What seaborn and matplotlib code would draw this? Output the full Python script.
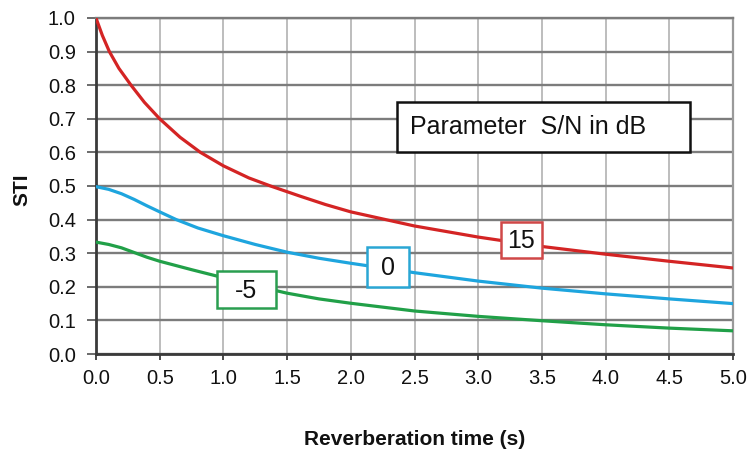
import numpy as np
import pandas as pd
import matplotlib
matplotlib.use("Agg")
import matplotlib.pyplot as plt
from matplotlib.patches import Rectangle
import seaborn as sns

# STI versus reverberation time (s), one curve per signal-to-noise ratio (dB)
rt_sn15 = [0.0, 0.05, 0.105, 0.18, 0.275, 0.38, 0.5, 0.66, 0.82, 1.0, 1.2, 1.37,
           1.6, 1.8, 2.0, 2.5, 3.0, 3.5, 4.0, 4.5, 5.0]
sti_sn15 = [1.000, 0.948, 0.900, 0.850, 0.800, 0.749, 0.700, 0.645, 0.600, 0.560,
            0.524, 0.500, 0.470, 0.445, 0.423, 0.381, 0.348, 0.320, 0.297, 0.276,
            0.256]

rt_sn0 = [0.0, 0.1, 0.2, 0.3, 0.4, 0.5, 0.63, 0.8, 1.0, 1.25, 1.5, 1.75, 2.0,
          2.5, 3.0, 3.5, 4.0, 4.5, 5.0]
sti_sn0 = [0.498, 0.490, 0.477, 0.460, 0.441, 0.423, 0.400, 0.375, 0.352, 0.326,
           0.303, 0.285, 0.270, 0.242, 0.217, 0.196, 0.179, 0.164, 0.150]

rt_snm5 = [0.0, 0.1, 0.2, 0.3, 0.4, 0.5, 0.75, 1.0, 1.25, 1.5, 1.75, 2.0, 2.5,
           3.0, 3.5, 4.0, 4.5, 5.0]
sti_snm5 = [0.333, 0.326, 0.316, 0.302, 0.288, 0.276, 0.251, 0.227, 0.203, 0.181,
            0.164, 0.151, 0.128, 0.112, 0.099, 0.087, 0.077, 0.069]

series_names = ["15", "0", "-5"]
series_rt = [rt_sn15, rt_sn0, rt_snm5]
series_sti = [sti_sn15, sti_sn0, sti_snm5]
series_colors = ["#d42424", "#1ea5de", "#21a048"]
box_edge_colors = ["#d04848", "#2aa6d4", "#2a9e50"]

x_ticks = [0.0, 0.5, 1.0, 1.5, 2.0, 2.5, 3.0, 3.5, 4.0, 4.5, 5.0]
y_ticks = [0.0, 0.1, 0.2, 0.3, 0.4, 0.5, 0.6, 0.7, 0.8, 0.9, 1.0]

df = pd.concat(
    [pd.DataFrame({"rt": t, "sti": v, "sn": name})
     for name, t, v in zip(series_names, series_rt, series_sti)],
    ignore_index=True,
)

sns.set_theme(style="white")
plt.rcParams["font.family"] = ["Liberation Sans", "DejaVu Sans"]

W, H = 753, 450
fig = plt.figure(figsize=(W / 100, H / 100), dpi=100)
fig.patch.set_facecolor("white")
ax = fig.add_axes([96 / W, 1 - 354 / H, 637 / W, 336 / H])

sns.lineplot(data=df, x="rt", y="sti", hue="sn", hue_order=series_names,
             palette=series_colors, legend=False, linewidth=2.3, ax=ax,
             zorder=3)

ax.set_xlim(0, 5)
ax.set_ylim(0, 1)
ax.set_xticks(x_ticks)
ax.set_yticks(y_ticks)
ax.set_xticklabels([f"{v:.1f}" for v in x_ticks])
ax.set_yticklabels([f"{v:.1f}" for v in y_ticks])

ax.grid(axis="y", color="#7c7c7c", linewidth=1.7, zorder=1)
ax.grid(axis="x", color="#b8b8b8", linewidth=1.3, zorder=1)
ax.set_axisbelow(True)

for side, col, lw in [("left", "#3a3a3a", 2.0), ("bottom", "#3a3a3a", 2.0),
                      ("top", "#7c7c7c", 1.7), ("right", "#9a9a9a", 1.6)]:
    ax.spines[side].set_visible(True)
    ax.spines[side].set_color(col)
    ax.spines[side].set_linewidth(lw)

ax.tick_params(axis="y", which="major", direction="out", length=6.5,
               width=1.4, color="#6a6a6a", pad=8, labelsize=14.5,
               labelcolor="#111111", left=True)
ax.tick_params(axis="x", which="major", direction="out", length=4.5,
               width=1.4, color="#4a4a4a", pad=6, labelsize=14.5,
               labelcolor="#111111", bottom=True)

ax.set_xlabel("Reverberation time (s)", fontsize=15, fontweight="bold",
              color="#111111")
ax.xaxis.set_label_coords(0.5, -0.225)
ax.set_ylabel("STI", fontsize=15, fontweight="bold", color="#111111",
              va="center")
ax.yaxis.set_label_coords(-0.117, 0.49)

# Curve labels in framed white boxes: (x0, y0, x1, y1) in data units
curve_boxes = [(3.177, 0.285, 3.499, 0.394),
               (2.130, 0.200, 2.457, 0.319),
               (0.947, 0.136, 1.413, 0.247)]
for name, (x0, y0, x1, y1), ec in zip(series_names, curve_boxes, box_edge_colors):
    ax.add_patch(Rectangle((x0, y0), x1 - x0, y1 - y0, facecolor="white",
                           edgecolor=ec, linewidth=1.8, zorder=5))
    ax.text((x0 + x1) / 2, (y0 + y1) / 2 - 0.004, name, ha="center",
            va="center", fontsize=18, color="#111111", zorder=6)

# Parameter caption box
ax.add_patch(Rectangle((2.363, 0.601), 4.663 - 2.363, 0.750 - 0.601,
                       facecolor="white", edgecolor="#111111", linewidth=1.8,
                       zorder=5))
ax.text(2.465, 0.675, "Parameter  S/N in dB", ha="left", va="center",
        fontsize=18, color="#111111", zorder=6)

fig.savefig("out.png", dpi=100, facecolor="white")
